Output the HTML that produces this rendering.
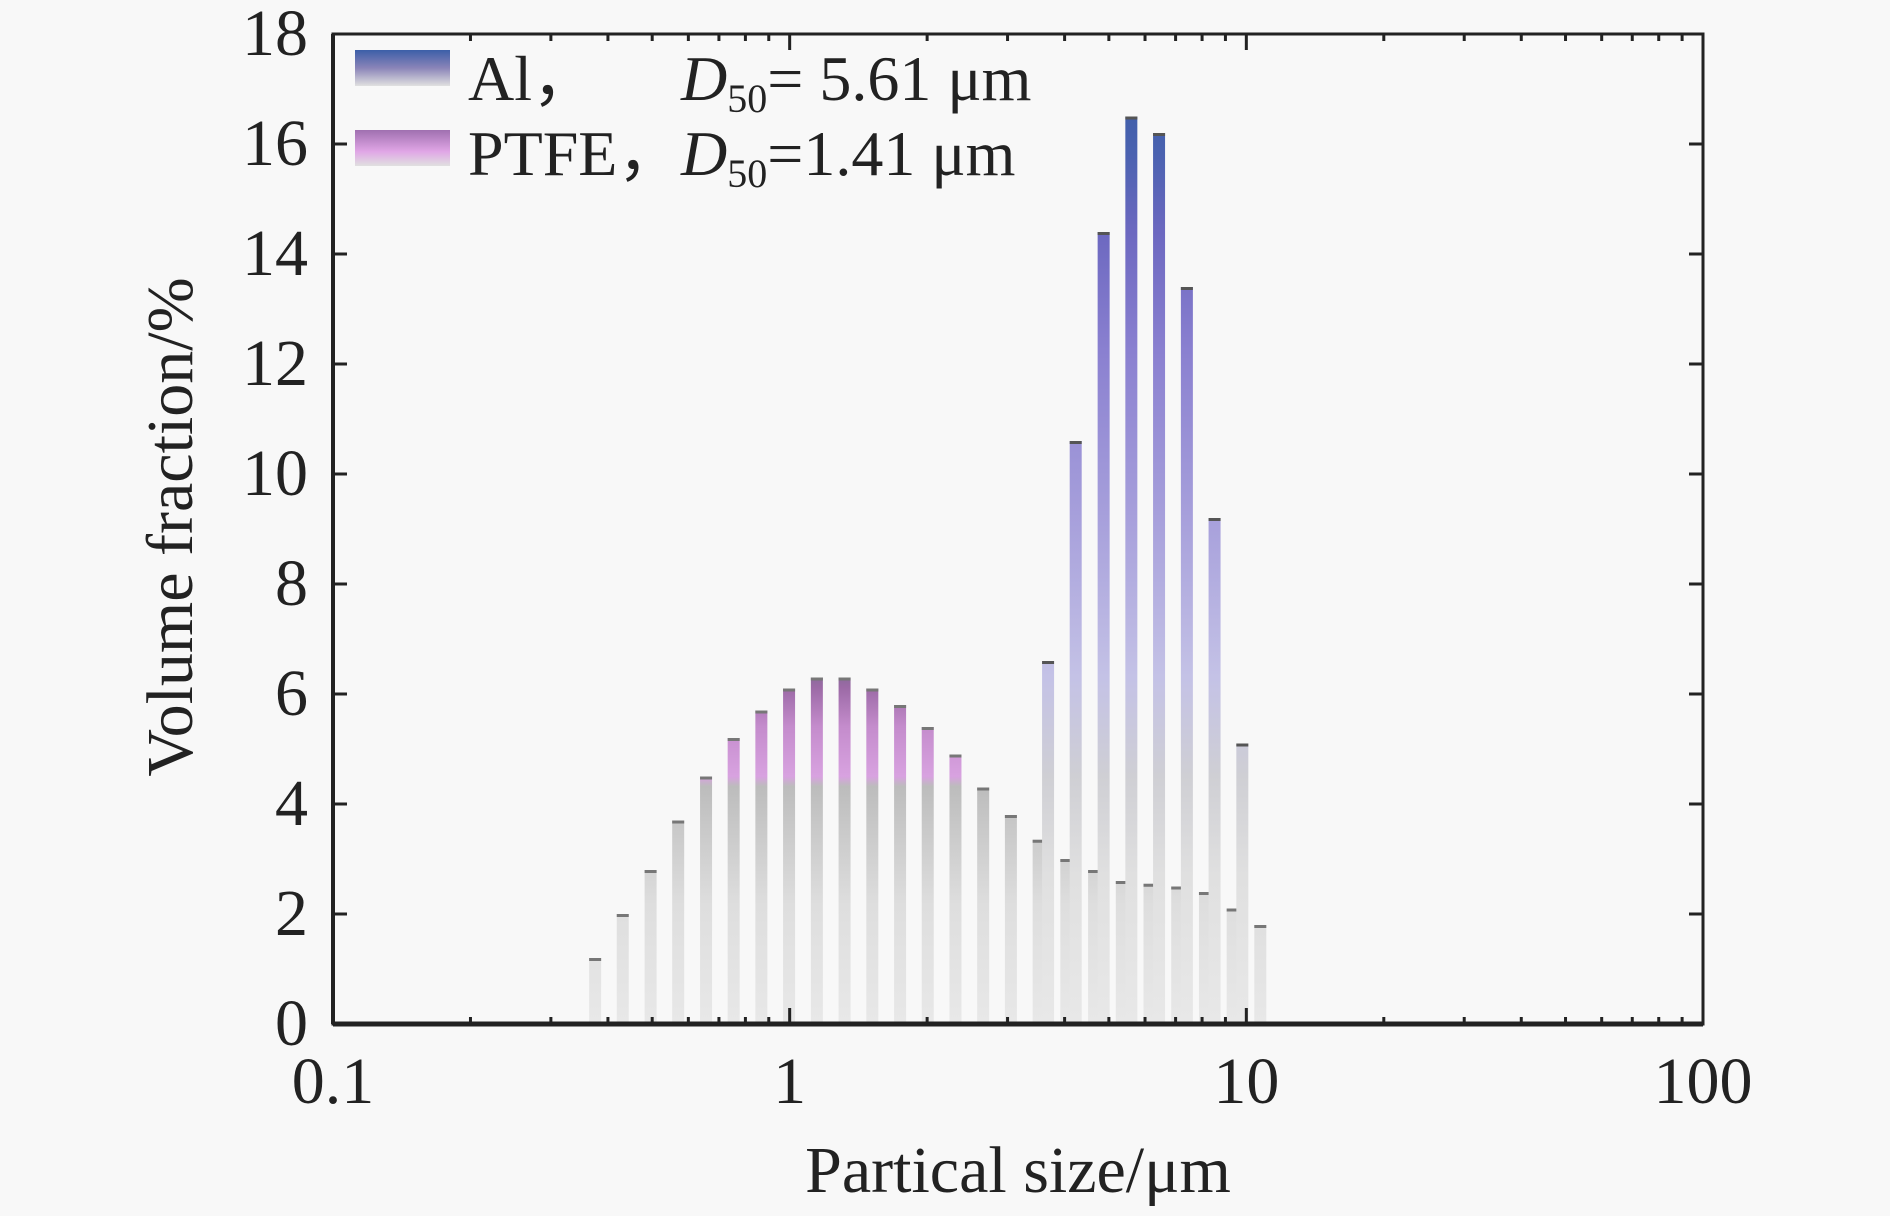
<!DOCTYPE html>
<html><head><meta charset="utf-8"><style>
html,body{margin:0;padding:0;background:#f8f8f8;}
svg{display:block;}
text{font-family:"Liberation Serif",serif;fill:#222;}
</style></head><body>
<svg id="chart" width="1890" height="1216" viewBox="0 0 1890 1216">
<defs>
<linearGradient id="gAl" gradientUnits="userSpaceOnUse" x1="0" y1="1024" x2="0" y2="34">
<stop offset="0" stop-color="#e8e8e8"/><stop offset="0.15" stop-color="#e0e0e0"/><stop offset="0.25" stop-color="#cfcfd4"/><stop offset="0.35" stop-color="#c4c2e6"/><stop offset="0.5" stop-color="#a9a2dc"/><stop offset="0.68" stop-color="#8a80d0"/><stop offset="0.8" stop-color="#6c68c0"/><stop offset="0.88" stop-color="#4a62b0"/><stop offset="1" stop-color="#2e58a0"/>
</linearGradient>
<linearGradient id="gPT" gradientUnits="userSpaceOnUse" x1="0" y1="1024" x2="0" y2="34">
<stop offset="0" stop-color="#e8e8e8"/><stop offset="0.12" stop-color="#dedede"/><stop offset="0.2" stop-color="#c8c8c8"/><stop offset="0.24" stop-color="#bcbcbc"/><stop offset="0.25" stop-color="#d8a2e0"/><stop offset="0.3" stop-color="#c48ccc"/><stop offset="0.34" stop-color="#9c6aa6"/><stop offset="0.36" stop-color="#7c6a90"/><stop offset="1" stop-color="#7c6a90"/>
</linearGradient>
<linearGradient id="gAlL" x1="0" y1="0" x2="0" y2="1">
<stop offset="0" stop-color="#3c5fa8"/><stop offset="0.5" stop-color="#8a84b8"/><stop offset="1" stop-color="#e0e0e0"/>
</linearGradient>
<linearGradient id="gPTL" x1="0" y1="0" x2="0" y2="1">
<stop offset="0" stop-color="#a070b0"/><stop offset="0.6" stop-color="#e0a6e6"/><stop offset="1" stop-color="#e0e0e0"/>
</linearGradient>
</defs>
<g id="bars"></g>
<g id="axes"></g>
</svg>
<script>
const ptfeSizes=[0.375,0.431,0.496,0.570,0.656,0.754,0.867,0.997,1.147,1.319,1.517,1.745,2.006,2.307,2.653,3.051,3.509,4.035,4.641,5.337,6.137,7.058,8.117,9.334,10.73];
const ptfeValues=[1.2,2.0,2.8,3.7,4.5,5.2,5.7,6.1,6.3,6.3,6.1,5.8,5.4,4.9,4.3,3.8,3.35,3.0,2.8,2.6,2.55,2.5,2.4,2.1,1.8];
const alSizes=[3.68,4.23,4.87,5.60,6.44,7.41,8.52,9.80];
const alValues=[6.6,10.6,14.4,16.5,16.2,13.4,9.2,5.1];
const yTicks=[0,2,4,6,8,10,12,14,16,18];
const xTicks=[0.1,1,10,100];
const xTickLabels=["0.1","1","10","100"];

const L=333,R=1703,T=34,B=1024;
const NS="http://www.w3.org/2000/svg";
function xs(v){return L+(Math.log10(v)+1)/3*(R-L);}
function ys(v){return B-v/18*(B-T);}
function mk(tag,attrs,parent){const e=document.createElementNS(NS,tag);for(const k in attrs)e.setAttribute(k,attrs[k]);parent.appendChild(e);return e;}
const bars=document.getElementById('bars'),axes=document.getElementById('axes');
const BW=12;
function drawBars(sizes,vals,grad,cap,name){
  sizes.forEach((s,i)=>{
    const x=xs(s),y=ys(vals[i]);
    const r=mk('rect',{x:x-BW/2,y:y,width:BW,height:B-y,fill:'url(#'+grad+')'},bars);
    
    
    mk('rect',{x:x-BW/2,y:y,width:BW,height:3,fill:cap},bars);
  });
}
drawBars(ptfeSizes,ptfeValues,'gPT','#777','ptfe');
drawBars(alSizes,alValues,'gAl','#555','al');
const fr=mk('rect',{x:L,y:T,width:R-L,height:B-T,fill:'none',stroke:'#222','stroke-width':3},axes);


mk('line',{x1:L,y1:B,x2:R,y2:B,stroke:'#222','stroke-width':5},axes);
mk('line',{x1:L,y1:T,x2:L,y2:B,stroke:'#222','stroke-width':4},axes);
function txt(str,x,y,anchor,name,size){
  const t=mk('text',{x:x,y:y,'text-anchor':anchor,'font-size':size||66},axes);
  t.textContent=str;
  
  
  return t;
}
yTicks.forEach(v=>{
  const y=ys(v);
  mk('line',{x1:L,y1:y,x2:L+14,y2:y,stroke:'#222','stroke-width':3},axes);
  mk('line',{x1:R,y1:y,x2:R-14,y2:y,stroke:'#222','stroke-width':3},axes);
  txt(String(v),308,y+21,'end','y-tick-label');
});
xTicks.forEach((v,i)=>{
  const x=xs(v);
  mk('line',{x1:x,y1:B,x2:x,y2:B-16,stroke:'#222','stroke-width':3},axes);
  mk('line',{x1:x,y1:T,x2:x,y2:T+16,stroke:'#222','stroke-width':3},axes);
  txt(xTickLabels[i],x,1103,'middle','x-tick-label');
  if(i<xTicks.length-1){for(let m=2;m<=9;m++){const xm=xs(v*m);
    mk('line',{x1:xm,y1:B,x2:xm,y2:B-7,stroke:'#222','stroke-width':3},axes);
    mk('line',{x1:xm,y1:T,x2:xm,y2:T+7,stroke:'#222','stroke-width':3},axes);}}
});
txt('Partical size/μm',1018,1192,'middle','x-axis-title');
const yt=mk('text',{transform:'translate(192,527) rotate(-90)','text-anchor':'middle','font-size':66},axes);
yt.textContent='Volume fraction/%';


const s1=mk('rect',{x:355,y:50,width:95,height:36,fill:'url(#gAlL)'},axes);


const s2=mk('rect',{x:355,y:130,width:95,height:36,fill:'url(#gPTL)'},axes);


const l1=mk('text',{x:468,y:100,'font-size':64},axes);
l1.innerHTML='Al，<tspan x="681" font-style="italic">D</tspan><tspan font-size="40" dy="12">50</tspan><tspan dy="-12">= 5.61 μm</tspan>';


const l2=mk('text',{x:468,y:175,'font-size':64},axes);
l2.innerHTML='PTFE，<tspan x="681" font-style="italic">D</tspan><tspan font-size="40" dy="12">50</tspan><tspan dy="-12">=1.41 μm</tspan>';


</script>
</body></html>
